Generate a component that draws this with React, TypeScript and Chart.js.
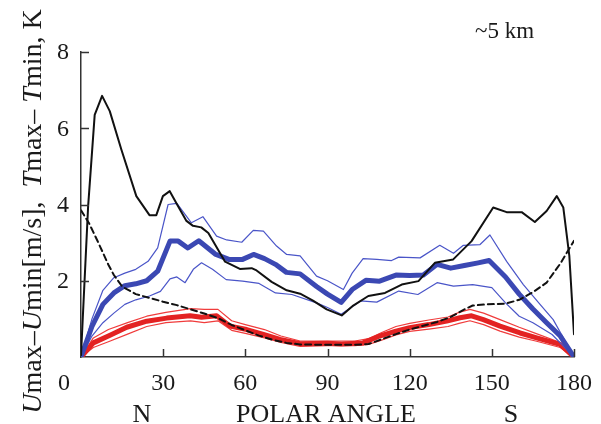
import React, { useEffect, useRef } from "react";
import { Chart, registerables } from "chart.js";

Chart.register(...registerables);

// ---- data ----
const xTickValues = [0, 30, 60, 90, 120, 150, 180];
const xTickLabels = ["0", "30", "60", "90", "120", "150", "180"];
const yTickValues = [2, 4, 6, 8];
const yTickLabels = ["2", "4", "6", "8"];

const blackAngle = [0, 2.6, 5, 7.7, 10.5, 14.7, 20.2, 25, 27.5, 29.9, 32.4, 35.4, 38.5, 40.9, 43.9, 46.5, 52.6, 58, 62.3, 64.1, 69.6, 75.1, 80, 84.7, 89.7, 95.2, 99.4, 104.9, 111, 117.1, 123.2, 129.2, 135.9, 142.6, 150.5, 155.4, 160.9, 165.7, 170, 173.7, 176.1, 178.3, 180];
const blackValue = [0.05, 3.95, 6.35, 6.85, 6.45, 5.45, 4.22, 3.72, 3.72, 4.22, 4.35, 3.96, 3.57, 3.44, 3.4, 3.25, 2.5, 2.31, 2.33, 2.27, 1.97, 1.75, 1.66, 1.48, 1.25, 1.09, 1.35, 1.6, 1.68, 1.9, 1.99, 2.47, 2.56, 3.04, 3.92, 3.8, 3.8, 3.54, 3.83, 4.22, 3.92, 2.65, 0.6];

const dashAngle = [0, 3, 6, 10, 12, 15, 20, 25, 30, 35, 40, 45, 50, 55, 60, 65, 70, 75, 80, 90, 100, 105, 110, 115, 120, 125, 130, 135, 140, 143, 148, 155, 160, 165, 170, 175, 180];
const dashValue = [3.85, 3.5, 3.05, 2.42, 2.15, 1.85, 1.65, 1.55, 1.45, 1.36, 1.25, 1.14, 1.02, 0.84, 0.7, 0.56, 0.45, 0.37, 0.33, 0.32, 0.32, 0.34, 0.47, 0.6, 0.72, 0.82, 0.92, 1.05, 1.25, 1.35, 1.38, 1.4, 1.5, 1.7, 1.95, 2.45, 3.05];

const blueMidAngle = [0, 4, 8, 12, 16, 20, 24, 28, 32.5, 35.5, 39, 43, 49, 54, 59, 63, 67, 71, 75, 80, 86, 90, 95, 99, 104, 109, 115, 120, 125, 130, 135, 140, 145, 149, 155, 160, 165, 170, 175, 180];
const blueMidValue = [0, 0.8, 1.38, 1.68, 1.87, 1.92, 2.0, 2.25, 3.04, 3.04, 2.86, 3.05, 2.7, 2.56, 2.56, 2.69, 2.58, 2.43, 2.22, 2.18, 1.85, 1.65, 1.43, 1.77, 2.01, 1.99, 2.15, 2.14, 2.15, 2.43, 2.33, 2.4, 2.47, 2.53, 2.1, 1.65, 1.26, 0.9, 0.55, 0];

const blueHighAngle = [0, 4, 8, 12, 16, 20, 24.5, 28, 31.8, 35, 40.3, 44.5, 49.5, 53.2, 58.7, 62.9, 66.6, 71.4, 75.1, 80, 86, 90, 95.8, 99, 103, 108, 113.4, 116, 123.8, 131, 136, 139.6, 145.7, 149.3, 155.4, 161.5, 167.6, 172.4, 180];
const blueHighValue = [0, 1.0, 1.75, 2.08, 2.2, 2.3, 2.51, 2.86, 4.0, 4.03, 3.52, 3.68, 3.17, 3.07, 3.01, 3.32, 3.3, 2.91, 2.69, 2.65, 2.12, 2.0, 1.77, 2.2, 2.58, 2.56, 2.53, 2.62, 2.6, 2.93, 2.72, 2.93, 2.95, 3.2, 2.51, 1.9, 1.38, 0.98, 0];

const blueLowAngle = [0, 4, 8, 12, 16, 20, 25, 29, 32.5, 35, 38, 41, 44, 48, 53, 59, 65, 71, 77, 86, 90, 95, 102, 108, 116, 123, 130, 136, 143, 150, 155, 160, 165, 172, 180];
const blueLowValue = [0, 0.55, 0.9, 1.15, 1.38, 1.5, 1.6, 1.72, 2.05, 2.1, 1.95, 2.3, 2.47, 2.3, 2.03, 1.99, 1.93, 1.68, 1.64, 1.42, 1.3, 1.12, 1.47, 1.44, 1.73, 1.64, 1.95, 1.86, 1.9, 1.82, 1.42, 1.07, 0.9, 0.59, 0];

const redMidAngle = [0, 4.5, 10.6, 16.7, 24, 31.3, 39.8, 44, 49.5, 54.4, 60.5, 66.6, 72.7, 80, 90, 95, 103, 109, 115, 120, 127, 133.5, 138.4, 142.6, 146.9, 153, 160.3, 166.4, 174.9, 180];
const redMidValue = [0, 0.37, 0.57, 0.78, 0.94, 1.02, 1.08, 1.04, 1.08, 0.81, 0.72, 0.59, 0.46, 0.35, 0.36, 0.34, 0.37, 0.55, 0.68, 0.77, 0.85, 0.94, 1.03, 1.08, 0.98, 0.81, 0.63, 0.5, 0.33, 0];

const redBandAngle = [0, 4.5, 10, 17, 24, 31, 40, 45, 50, 55, 60, 67, 73, 80, 90, 100, 105, 110, 115, 120, 127, 134, 138, 142, 147, 153, 160, 166, 175, 180];
const redHighValue = [0, 0.5, 0.72, 0.9, 1.07, 1.17, 1.27, 1.25, 1.25, 0.95, 0.85, 0.72, 0.55, 0.42, 0.42, 0.42, 0.48, 0.65, 0.8, 0.88, 0.97, 1.05, 1.17, 1.25, 1.15, 0.98, 0.78, 0.62, 0.38, 0];
const redLowValue = [0, 0.25, 0.4, 0.6, 0.8, 0.9, 0.95, 0.9, 0.95, 0.7, 0.62, 0.5, 0.38, 0.28, 0.3, 0.3, 0.33, 0.45, 0.58, 0.67, 0.73, 0.8, 0.88, 0.95, 0.85, 0.68, 0.52, 0.42, 0.25, 0];

const pts = (a: number[], v: number[]) => a.map((x, i) => ({ x, y: v[i] }));

const SERIF = '"Liberation Serif", "DejaVu Serif", serif';

const decorPlugin = {
  id: "decor",
  afterDraw(chart: any) {
    const { ctx, chartArea, scales } = chart;
    const xs = scales.x;
    const ys = scales.y;
    ctx.save();
    ctx.strokeStyle = "#333";
    ctx.lineWidth = 1.5;
    // inward ticks
    yTickValues.forEach((v) => {
      const p = Math.round(ys.getPixelForValue(v)) + 0.5;
      ctx.beginPath();
      ctx.moveTo(chartArea.left, p);
      ctx.lineTo(chartArea.left + 8, p);
      ctx.stroke();
    });
    xTickValues.forEach((v) => {
      if (v === 0) return;
      const p = Math.round(xs.getPixelForValue(v)) + 0.5;
      ctx.beginPath();
      ctx.moveTo(p, chartArea.bottom);
      ctx.lineTo(p, chartArea.bottom - 8);
      ctx.stroke();
    });
    // tick labels
    ctx.fillStyle = "#1a1a1a";
    ctx.font = `24px ${SERIF}`;
    ctx.textAlign = "right";
    ctx.textBaseline = "middle";
    yTickValues.forEach((v, i) => {
      ctx.fillText(yTickLabels[i], chartArea.left - 12, ys.getPixelForValue(v) + 1);
    });
    ctx.textAlign = "center";
    ctx.textBaseline = "alphabetic";
    xTickValues.forEach((v, i) => {
      const p = xs.getPixelForValue(v) + (v === 0 ? -17 : 0);
      ctx.fillText(xTickLabels[i], p, chartArea.bottom + 33);
    });
    // bottom titles
    ctx.font = `26px ${SERIF}`;
    const by = chartArea.bottom + 65;
    ctx.fillText("N", 142, by);
    ctx.fillText("POLAR ANGLE", 326, by);
    ctx.fillText("S", 511, by);
    // corner label
    ctx.font = `23px ${SERIF}`;
    ctx.textAlign = "left";
    ctx.fillText("~5 km", 475, 38);
    // y title with italic parts
    const segs = [
      { t: "U", i: true },
      { t: "max–", i: false },
      { t: "U", i: true },
      { t: "min[m/s],  ", i: false },
      { t: "T", i: true },
      { t: "max– ", i: false },
      { t: "T", i: true },
      { t: "min, K", i: false },
    ];
    const fs = 28;
    const fontFor = (it: boolean) => `${it ? "italic " : ""}${fs}px ${SERIF}`;
    let total = 0;
    segs.forEach((s) => {
      ctx.font = fontFor(s.i);
      total += ctx.measureText(s.t).width;
    });
    ctx.translate(41, 211.5);
    ctx.rotate(-Math.PI / 2);
    let cx = -total / 2;
    ctx.textAlign = "left";
    segs.forEach((s) => {
      ctx.font = fontFor(s.i);
      ctx.fillText(s.t, cx, 0);
      cx += ctx.measureText(s.t).width;
    });
    ctx.restore();
  },
};

export default function App() {
  const ref = useRef<HTMLCanvasElement | null>(null);
  useEffect(() => {
    if (!ref.current) return;
    const blue = "#3b48b3";
    const blueThin = "#4a55c8";
    const red = "#e32222";
    const redThin = "#f03c3c";
    const chart = new Chart(ref.current, {
      type: "line",
      data: {
        datasets: [
          { data: pts(dashAngle, dashValue), borderColor: "#111", borderWidth: 2, borderDash: [6, 4], order: 0 },
          { data: pts(blackAngle, blackValue), borderColor: "#111", borderWidth: 2, order: 1 },
          { data: pts(blueMidAngle, blueMidValue), borderColor: blue, borderWidth: 5, order: 2 },
          { data: pts(blueHighAngle, blueHighValue), borderColor: blueThin, borderWidth: 1.2, order: 3 },
          { data: pts(blueLowAngle, blueLowValue), borderColor: blueThin, borderWidth: 1.2, order: 3 },
          { data: pts(redMidAngle, redMidValue), borderColor: red, borderWidth: 5, order: 4 },
          { data: pts(redBandAngle, redHighValue), borderColor: redThin, borderWidth: 1.2, order: 5 },
          { data: pts(redBandAngle, redLowValue), borderColor: redThin, borderWidth: 1.2, order: 5 },
        ] as any,
      },
      options: {
        animation: false,
        responsive: false,
        devicePixelRatio: 1,
        layout: { padding: { left: 0, right: 27, top: 52, bottom: 0 } },
        elements: { point: { radius: 0 }, line: { tension: 0, fill: false, borderJoinStyle: "round", borderCapStyle: "round" } },
        plugins: { legend: { display: false }, tooltip: { enabled: false } },
        scales: {
          x: {
            type: "linear",
            min: 0,
            max: 180,
            ticks: { display: false, stepSize: 30 },
            grid: { display: false },
            border: { display: true, color: "#333", width: 1.5 },
            afterFit: (s: any) => { s.height = 67; },
          },
          y: {
            type: "linear",
            min: 0,
            max: 8,
            ticks: { display: false, stepSize: 2 },
            grid: { display: false },
            border: { display: true, color: "#333", width: 1.5 },
            afterFit: (s: any) => { s.width = 81; },
          },
        },
      } as any,
      plugins: [decorPlugin],
    });
    return () => chart.destroy();
  }, []);
  return (
    <div style={{ position: "absolute", left: 0, top: 0, width: 601, height: 424, background: "#fff" }}>
      <canvas ref={ref} width={601} height={424} style={{ width: 601, height: 424, display: "block" }} />
    </div>
  );
}
